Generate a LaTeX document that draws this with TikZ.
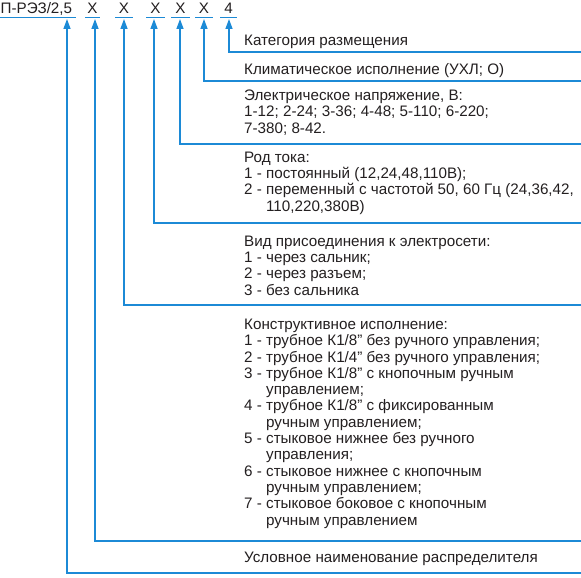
\documentclass[tikz,border=0pt]{standalone}
\usepackage{fontspec}
\setmainfont{Liberation Sans}
\usetikzlibrary{arrows.meta}
\definecolor{lineblue}{RGB}{28,138,214}
\definecolor{txtgray}{RGB}{35,31,32}
\tikzset{
	lead/.style={draw=lineblue, line width=1.4pt, -{Triangle[width=7pt,length=10pt]}},
	uline/.style={draw=lineblue, line width=1.4pt},
	head/.style={inner sep=0pt, anchor=base, font=\fontsize{15.2}{16.3}\selectfont, text=txtgray},
	desc/.style={inner sep=0pt, anchor=base west, align=left, font=\fontsize{15.2}{16.3}\selectfont, text=txtgray}
}
\newcommand{\ind}{\hphantom{1 - }}
\begin{document}
	\begin{tikzpicture}[x=1pt,y=-1pt]
		\useasboundingbox (0,0) rectangle (581,578);
		
		%Designation
		\node[head, anchor=base west] (h0) at (0.5,14) {П-РЭЗ/2,5};
		\node[head] (h1) at (92.5,14) {X};
		\node[head] (h2) at (124,14) {X};
		\node[head] (h3) at (155.5,14) {X};
		\node[head] (h4) at (180.5,14) {X};
		\node[head] (h5) at (204,14) {X};
		\node[head] (h6) at (228.5,14) {4};
		
		%Underlines
		\draw[uline] (0,17.5) -- (76,17.5);
		\draw[uline] (85,17.5) -- (100,17.5);
		\draw[uline] (115,17.5) -- (133,17.5);
		\draw[uline] (146,17.5) -- (165,17.5);
		\draw[uline] (171,17.5) -- (190,17.5);
		\draw[uline] (195,17.5) -- (213,17.5);
		\draw[uline] (220,17.5) -- (237,17.5);
		
		%Descriptions (anchored at the last line)
		\node[desc] (d6) at (244,46) {Категория размещения};
		\node[desc] (d5) at (244,74.5) {Климатическое исполнение (УХЛ; О)};
		\node[desc] (d4) at (244,133) {Электрическое напряжение, В:\\
			1-12; 2-24; 3-36; 4-48; 5-110; 6-220;\\
			7-380; 8-42.};
		\node[desc] (d3) at (244,211) {Род тока:\\
			1 - постоянный (12,24,48,110В);\\
			2 - переменный с частотой 50, 60 Гц (24,36,42,\\
			\ind110,220,380В)};
		\node[desc] (d2) at (244,295) {Вид присоединения к электросети:\\
			1 - через сальник;\\
			2 - через разъем;\\
			3 - без сальника};
		\node[desc] (d1) at (244,525) {Конструктивное исполнение:\\
			1 - трубное К1/8” без ручного управления;\\
			2 - трубное К1/4” без ручного управления;\\
			3 - трубное К1/8” с кнопочным ручным\\
			\ind управлением;\\
			4 - трубное К1/8” с фиксированным\\
			\ind ручным управлением;\\
			5 - стыковое нижнее без ручного\\
			\ind управления;\\
			6 - стыковое нижнее с кнопочным\\
			\ind ручным управлением;\\
			7 - стыковое боковое с кнопочным\\
			\ind ручным управлением};
		\node[desc] (d0) at (244,562) {Условное наименование распределителя};
		
		%Leaders
		\foreach \n/\x/\y in {0/67/573, 1/95/541, 2/124/305, 3/154/223, 4/180/144, 5/204/81, 6/229/52}{
			\coordinate (r\n) at (581,\y);
			\coordinate (t\n) at (\x,19);
			\draw[lead] (r\n) -| (t\n);
		}
	\end{tikzpicture}
\end{document}
